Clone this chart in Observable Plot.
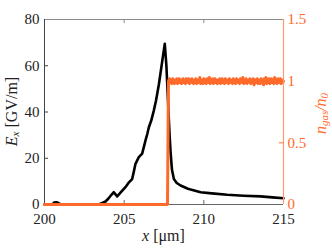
<!DOCTYPE html>
<html><head><meta charset="utf-8">
<script src="https://cdn.jsdelivr.net/npm/d3@7"></script>
<script src="https://cdn.jsdelivr.net/npm/@observablehq/plot@0.6"></script>
<style>body{margin:0;background:#fff}</style>
</head><body><div id="chart"></div>
<script>
// Electric field E_x [GV/m] vs x [µm]
const exX = [200, 200.5, 200.6, 200.75, 200.9, 201.0, 203.4, 203.6, 203.83, 204.0, 204.2, 204.35, 204.56, 204.7, 204.88, 205.08, 205.3, 205.5, 205.6, 205.71, 205.92, 206.13, 206.34, 206.45, 206.55, 206.7, 206.86, 207.0, 207.18, 207.39, 207.55, 207.65, 207.75, 207.85, 207.92, 208.0, 208.12, 208.3, 208.54, 209.0, 209.8, 210.5, 211.47, 212.5, 213.56, 214.3, 215];
const exY = [0, 0, 0.9, 1.0, 0.6, 0, 0, 0.6, 1.3, 2.5, 4.2, 5.3, 3.5, 4.6, 6, 7.5, 9.6, 11, 14, 17.6, 20.5, 22, 27.7, 30.5, 33.4, 36.3, 40.6, 45, 52, 62, 69.5, 60, 45, 30, 22, 15, 11, 9.3, 8.2, 6.8, 5.3, 4.8, 4.2, 3.8, 3.5, 3.1, 2.7];
// Gas density n_gas/n_0 vs x [µm]
const nX = [200, 207.72, 207.78,
  207.85, 207.9, 207.95, 208.0, 208.05, 208.1, 208.15, 208.2, 208.25, 208.3, 208.35, 208.4, 208.45, 208.5, 208.55, 208.6, 208.65, 208.7, 208.75, 208.8, 208.85, 208.9, 208.95,
  209.0, 209.05, 209.1, 209.15, 209.2, 209.25, 209.3, 209.35, 209.4, 209.45, 209.5, 209.55, 209.6, 209.65, 209.7, 209.75, 209.8, 209.85, 209.9, 209.95,
  210.0, 210.05, 210.1, 210.15, 210.2, 210.25, 210.3, 210.35, 210.4, 210.45, 210.5, 210.55, 210.6, 210.65, 210.7, 210.75, 210.8, 210.85, 210.9, 210.95,
  211.0, 211.05, 211.1, 211.15, 211.2, 211.25, 211.3, 211.35, 211.4, 211.45, 211.5, 211.55, 211.6, 211.65, 211.7, 211.75, 211.8, 211.85, 211.9, 211.95,
  212.0, 212.05, 212.1, 212.15, 212.2, 212.25, 212.3, 212.35, 212.4, 212.45, 212.5, 212.55, 212.6, 212.65, 212.7, 212.75, 212.8, 212.85, 212.9, 212.95,
  213.0, 213.05, 213.1, 213.15, 213.2, 213.25, 213.3, 213.35, 213.4, 213.45, 213.5, 213.55, 213.6, 213.65, 213.7, 213.75, 213.8, 213.85, 213.9, 213.95,
  214.0, 214.05, 214.1, 214.15, 214.2, 214.25, 214.3, 214.35, 214.4, 214.45, 214.5, 214.55, 214.6, 214.65, 214.7, 214.75, 214.8, 214.85, 214.9, 214.95, 215.0];
const nY = [0, 0, 1.0,
  1.02, 0.99, 1.01, 0.98, 1.02, 1.0, 0.98, 1.01, 0.99, 1.02, 0.98, 1.0, 1.02, 0.99, 1.01, 0.98, 1.0, 1.02, 0.99, 1.01, 0.98, 1.02, 1.0,
  0.99, 1.02, 0.98, 1.01, 0.99, 1.02, 1.0, 0.98, 1.01, 0.99, 1.02, 0.98, 1.0, 1.01, 0.99, 1.03, 0.98, 1.01, 1.0, 0.98,
  1.02, 0.99, 1.01, 0.98, 1.02, 1.0, 0.99, 1.03, 0.98, 1.01, 0.99, 1.02, 0.98, 1.0, 1.02, 0.99, 1.01, 0.98, 1.01, 0.99,
  1.02, 0.98, 1.0, 1.02, 0.99, 1.01, 0.98, 1.02, 1.0, 0.99, 1.01, 0.98, 1.02, 0.99, 1.01, 1.0, 0.98, 1.02, 0.99, 1.01,
  0.98, 1.02, 1.0, 0.99, 1.01, 0.98, 1.02, 0.99, 1.0, 1.03, 0.98, 1.01, 0.99, 1.02, 0.98, 1.0, 1.01, 0.99, 1.02, 0.98,
  1.01, 0.99, 1.02, 0.97, 1.0, 1.01, 0.99, 1.02, 0.98, 1.01, 1.0, 0.98, 1.02, 0.99, 1.01, 0.97, 1.02, 0.99, 1.03, 0.98,
  1.01, 0.99, 1.02, 0.98, 1.0, 1.02, 0.99, 1.01, 0.98, 1.03, 0.99, 1.01, 0.98, 1.02, 1.0, 0.99, 1.02, 0.98, 1.01, 0.99, 1.0];
const xTicks = [200, 205, 210, 215];
const yTicks = [0, 20, 40, 60, 80];
const rTicks = [0, 0.5, 1, 1.5];

const ORANGE = "#ff6a2a";
const yMax = 80, rMax = 1.5;
const toLeft = v => v * yMax / rMax;

const ex = exX.map((x, i) => ({x, y: exY[i]}));
const ng = nX.map((x, i) => ({x, y: toLeft(nY[i])}));

const W = 332, H = 250, mL = 44, mR = 49, mT = 19, mB = 46;
const fw = W - mL - mR, fh = H - mT - mB;

const chart = Plot.plot({
  width: W, height: H,
  marginLeft: mL, marginRight: mR, marginTop: mT, marginBottom: mB,
  style: {fontFamily: "Liberation Serif", fontSize: "15px", background: "#fff", color: "#222"},
  x: {domain: [200, 215]},
  y: {domain: [0, yMax]},
  marks: [
    Plot.ruleY([yMax], {stroke: "#8a8a8a", strokeWidth: 1}),
    Plot.ruleX([200], {stroke: "#444", strokeWidth: 1}),
    Plot.ruleY([0], {stroke: "#666", strokeWidth: 1}),
    Plot.ruleX(xTicks.slice(1, -1), {x: d => d, insetTop: fh - 4, stroke: "#666"}),
    Plot.ruleX(xTicks.slice(1, -1), {x: d => d, insetBottom: fh - 4, stroke: "#888"}),
    Plot.ruleY(yTicks.slice(1, -1), {y: d => d, insetRight: fw - 4, stroke: "#444"}),
    Plot.ruleY(rTicks.slice(1, -1).map(toLeft), {y: d => d, insetLeft: fw - 4, stroke: ORANGE}),
    Plot.lineY(ex, {x: "x", y: "y", stroke: "#000", strokeWidth: 2.6}),
    Plot.lineY(ng, {x: "x", y: "y", stroke: ORANGE, strokeWidth: 3}),
    Plot.ruleX([215], {stroke: "#ff9a70", strokeWidth: 1.2}),
    Plot.axisX({ticks: xTicks, tickSize: 0, tickPadding: 9, label: null, tickFormat: d => String(d)}),
    Plot.axisY({ticks: yTicks, tickSize: 0, tickPadding: 5, label: null}),
    Plot.axisY({anchor: "right", ticks: rTicks.map(toLeft), tickSize: 0, tickPadding: 4, label: null, color: ORANGE,
      tickFormat: d => String(Math.round(d * rMax / yMax * 100) / 100)})
  ]
});
document.getElementById("chart").appendChild(chart);

const svg = d3.select(chart);
// y label left
const ly = svg.append("text")
  .attr("transform", `translate(13,${mT + fh / 2}) rotate(-90)`)
  .attr("text-anchor", "middle").attr("dominant-baseline", "middle")
  .attr("font-family", "Liberation Serif").attr("font-size", 16).attr("fill", "#222");
ly.append("tspan").attr("font-style", "italic").text("E");
ly.append("tspan").attr("font-style", "italic").attr("font-size", 11).attr("dy", 3).text("x");
ly.append("tspan").attr("dy", -3).text(" [GV/m]");
// y label right
const ry = svg.append("text")
  .attr("transform", `translate(322,${mT + fh / 2 + 2}) rotate(-90)`)
  .attr("text-anchor", "middle").attr("dominant-baseline", "middle")
  .attr("font-family", "Liberation Serif").attr("font-size", 16).attr("fill", ORANGE).attr("font-style", "italic");
ry.append("tspan").text("n");
ry.append("tspan").attr("font-size", 11).attr("dy", 3).text("gas");
ry.append("tspan").attr("dy", -3).text("/n");
ry.append("tspan").attr("font-size", 11).attr("dy", 3).text("0");
// x label
const lx = svg.append("text")
  .attr("x", mL + fw / 2).attr("y", 241)
  .attr("text-anchor", "middle")
  .attr("font-family", "Liberation Serif").attr("font-size", 16).attr("fill", "#222");
lx.append("tspan").attr("font-style", "italic").text("x");
lx.append("tspan").text(" [\u03bcm]");
</script>
</body></html>
